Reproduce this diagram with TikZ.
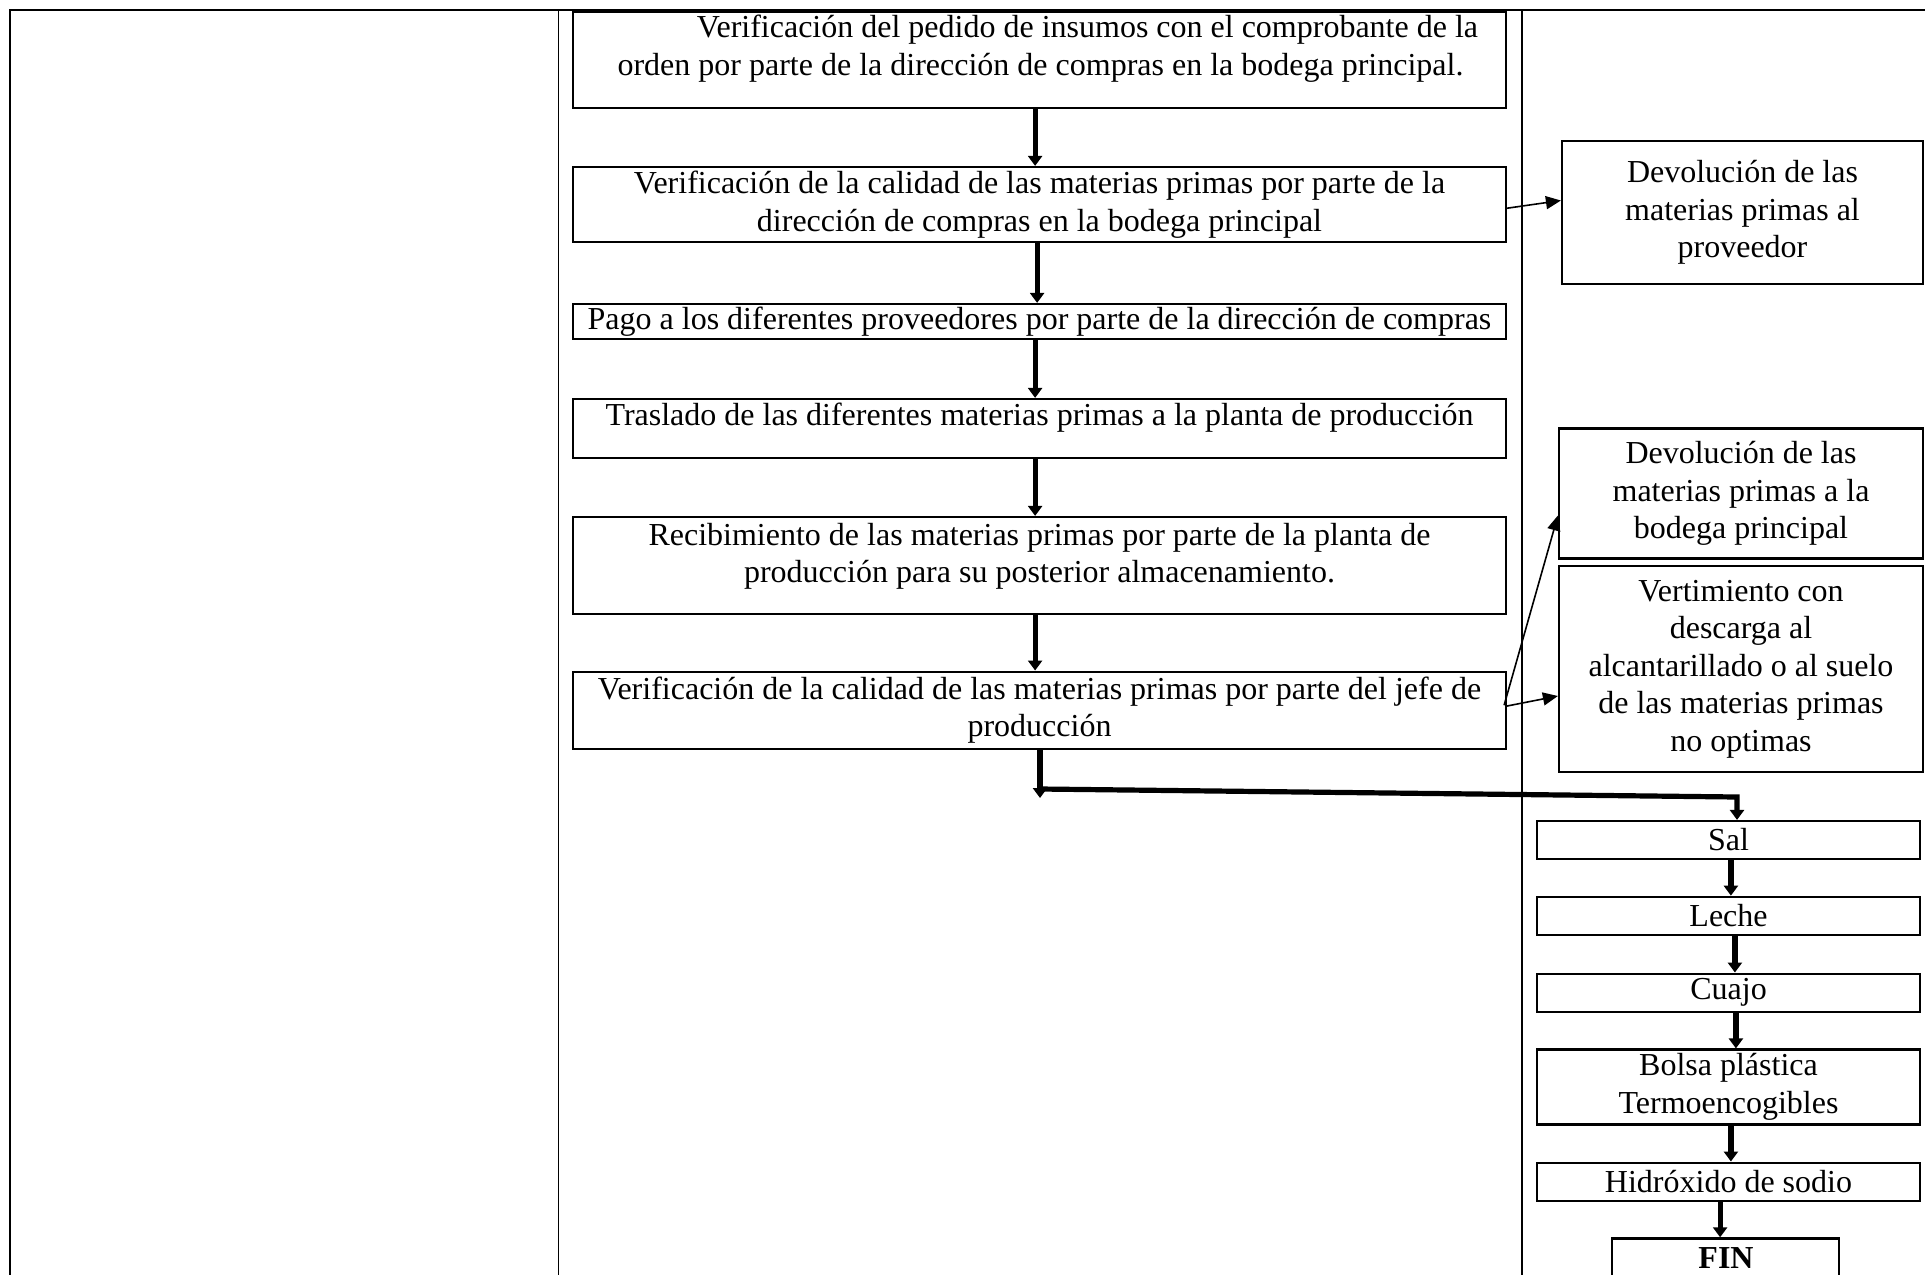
\documentclass[tikz,border=0pt]{standalone}
\usepackage{fontspec}
\setmainfont{Liberation Serif}
\usetikzlibrary{arrows.meta}
\begin{document}
\begin{tikzpicture}[x=0.5pt,y=-0.5pt,
  font=\fontsize{16pt}{18.7pt}\selectfont,
  frame/.style={line width=1.1pt},
  divider/.style={line width=0.8pt},
  box/.style={draw, line width=1.1pt, inner sep=0pt, align=center},
  txt/.style={inner sep=0pt, align=center},
  flow/.style={line width=2.6pt, -{Triangle[length=5pt,width=7pt]}},
  link/.style={line width=0.8pt, -{Triangle[length=7.5pt,width=6.5pt]}}]
\useasboundingbox (0,0) rectangle (1925,1274);
\clip (0,0) rectangle (1925,1274);
% frame
\draw[frame] (10,1280) -- (10,10) -- (1930,10);
\draw[divider] (558.6,10) -- (558.6,1280);
\draw[divider] (1522,10) -- (1522,1280);
% middle column
\node[box, minimum width=466.5pt, minimum height=48pt] (b1) at (1039.5,60) {};
\node[txt] (t1) at (1040.5,48.5) {\hspace*{47pt}Verificación del pedido de insumos con el comprobante de la\\orden por parte de la dirección de compras en la bodega principal.};
\node[box, minimum width=466.5pt, minimum height=37.5pt] (b2) at (1039.5,204.5) {Verificación de la calidad de las materias primas por parte de la\\dirección de compras en la bodega principal};
\node[box, minimum width=466.5pt, minimum height=17.5pt] (b3) at (1039.5,321.5) {Pago a los diferentes proveedores por parte de la dirección de compras};
\node[box, minimum width=466.5pt, minimum height=29.5pt] (b4) at (1039.5,428.5) {};
\node[txt] (t4) at (1039.5,417.4) {Traslado de las diferentes materias primas a la planta de producción};
\node[box, minimum width=466.5pt, minimum height=48.5pt] (b5) at (1039.5,565.5) {};
\node[txt] (t5) at (1039.5,556) {Recibimiento de las materias primas por parte de la planta de\\producción para su posterior almacenamiento.};
\node[box, minimum width=466.5pt, minimum height=38.6pt] (b6) at (1039.5,710.2) {Verificación de la calidad de las materias primas por parte del jefe de\\producción};
% right column side boxes
\node[box, minimum width=180.5pt, minimum height=71.5pt] (d1) at (1742.5,212.5) {Devolución de las\\materias primas al\\proveedor};
\node[box, minimum width=182pt, minimum height=65pt] (d2) at (1741,493.5) {Devolución de las\\materias primas a la\\bodega principal};
\node[box, minimum width=182pt, minimum height=103pt] (d3) at (1741,669) {Vertimiento con\\descarga al\\alcantarillado o al suelo\\de las materias primas\\no optimas};
% raw materials chain
\node[box, minimum width=191.5pt, minimum height=19pt] (sal) at (1728.5,840) {Sal};
\node[box, minimum width=191.5pt, minimum height=19.25pt] (leche) at (1728.5,916) {Leche};
\node[box, minimum width=191.5pt, minimum height=19pt] (cuajo) at (1728.5,992.6) {Cuajo};
\node[box, minimum width=191.5pt, minimum height=37.5pt] (bolsa) at (1728.5,1087) {Bolsa plástica\\Termoencogibles};
\node[box, minimum width=191.5pt, minimum height=19pt] (hidro) at (1728.5,1181.6) {Hidróxido de sodio};
\node[box, minimum width=113.5pt, minimum height=30.6pt] (fin) at (1725.5,1269) {};
\node[txt] (tfin) at (1726,1258.4) {\bfseries FIN};
% main flow
\draw[flow] ([xshift=-2.2pt]b1.south) -- ([xshift=-2.2pt]b2.north);
\draw[flow] ([xshift=-1.2pt]b2.south) -- ([xshift=-1.2pt]b3.north);
\draw[flow] ([xshift=-2.2pt]b3.south) -- ([xshift=-2.2pt]b4.north);
\draw[flow] ([xshift=-2.2pt]b4.south) -- ([xshift=-2.2pt]b5.north);
\draw[flow] ([xshift=-2.2pt]b5.south) -- ([xshift=-2.2pt]b6.north);
\coordinate (c0) at (1040,798);
\coordinate (c1) at (1040,789);
\coordinate (c2) at (1737,797);
\draw[flow] ([xshift=0.25pt]b6.south) -- (c0);
\draw[flow] (c1) -- (c2) -- (c2 |- sal.north);
\draw[flow] ([xshift=1.2pt]sal.south) -- ([xshift=1.2pt]leche.north);
\draw[flow] ([xshift=3.2pt]leche.south) -- ([xshift=3.2pt]cuajo.north);
\draw[flow] ([xshift=3.7pt]cuajo.south) -- ([xshift=3.7pt]bolsa.north);
\draw[flow] ([xshift=1.2pt]bolsa.south) -- ([xshift=1.2pt]hidro.north);
\draw[flow] ([xshift=-4.2pt]hidro.south) -- ([xshift=-2.7pt]fin.north);
% side links
\draw[link] ([xshift=-1pt,yshift=-2pt]b2.east) -- ([yshift=6pt]d1.west);
\draw[link] ([xshift=-1.5pt,yshift=2.5pt]b6.east) -- ([yshift=-11pt]d2.west);
\draw[link] ([xshift=-0.5pt,yshift=2pt]b6.east) -- ([yshift=-13.5pt]d3.west);
\end{tikzpicture}
\end{document}
